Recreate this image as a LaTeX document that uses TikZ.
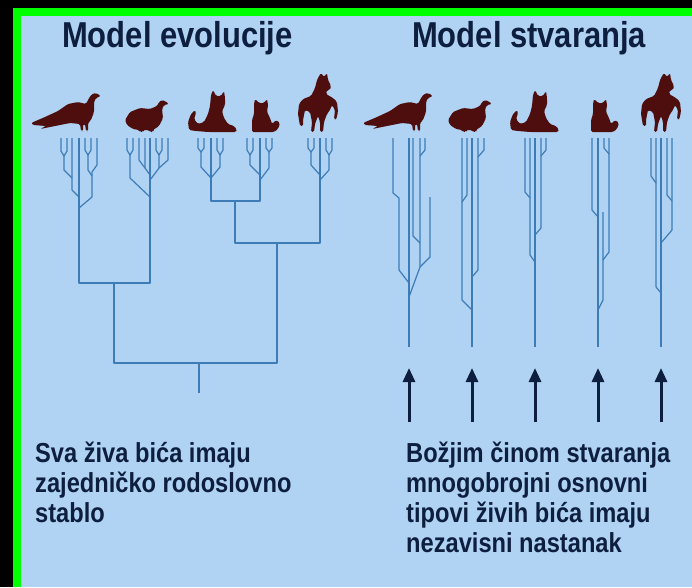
\documentclass[tikz,border=0pt]{standalone}
\usepackage{fontspec}
\setmainfont{Liberation Sans}
\newfontfamily\narrowfont[FakeStretch=0.86]{Liberation Sans}
\usepackage{xcolor}
\usetikzlibrary{arrows.meta}
\definecolor{panelblue}{RGB}{176,211,243}
\definecolor{framegreen}{RGB}{0,255,0}
\definecolor{treeblue}{RGB}{62,124,184}
\definecolor{inkblue}{RGB}{14,30,62}
\definecolor{beastbrown}{RGB}{78,14,14}

\begin{document}
\begin{tikzpicture}[
  x=1pt, y=-1pt,
  title/.style={anchor=base west,inner sep=0pt,text=inkblue,font=\narrowfont\bfseries\fontsize{36}{36}\selectfont},
  caption/.style={anchor=base west,inner sep=0pt,text=inkblue,font=\narrowfont\bfseries\fontsize{27.5}{27.5}\selectfont},
  branch/.style={draw=treeblue,line width=1.2pt,line join=round},
  uparrow/.style={draw=inkblue,line width=3pt,-{Triangle[length=14pt,width=12pt]}},
  beast/.style={fill=beastbrown,rounded corners=1.5pt},
  peacock/.pic={\fill[beast] (1,-9) -- (15,-15) -- (28,-21) -- (38,-28) -- (48,-30) -- (56,-28)
      -- (59,-34) -- (62,-38) -- (66,-39) -- (71,-36) -- (66,-34) -- (64,-30) -- (64,-20)
      -- (61,-12) -- (58,-9) -- (58,-1) -- (56,-1) -- (55,-8) -- (53,-8) -- (53,-1)
      -- (51,-1) -- (50,-8) -- (40,-9) -- (25,-6) -- (10,-3) -- (16,-6) -- (3,-7) -- cycle;},
  duck/.pic={\fill[beast] (0,-12) -- (5,-20) -- (15,-24) -- (25,-23) -- (32,-26) -- (34,-30)
      -- (37,-32) -- (40,-31) -- (44,-28) -- (39,-27) -- (37,-23) -- (38,-14) -- (34,-6)
      -- (28,-2) -- (28,0) -- (25,0) -- (24,-2) -- (18,-2) -- (18,0) -- (15,0) -- (14,-2)
      -- (8,-3) -- (2,-7) -- cycle;},
  bigcat/.pic={\fill[beast] (1,-2) -- (0,-10) -- (3,-18) -- (7,-22) -- (8,-19) -- (6,-13)
      -- (10,-8) -- (16,-10) -- (20,-18) -- (22,-26) -- (23,-37) -- (25,-42) -- (28,-36)
      -- (33,-36) -- (36,-41) -- (37,-34) -- (37,-27) -- (34,-21) -- (36,-14) -- (40,-8)
      -- (46,-6) -- (49,-2) -- (48,0) -- (20,0) -- (8,-1) -- cycle;},
  smallcat/.pic={\fill[beast] (2,0) -- (2,-12) -- (4,-18) -- (4,-28) -- (5,-33) -- (9,-29)
      -- (14,-29) -- (17,-33) -- (18,-27) -- (17,-20) -- (20,-14) -- (22,-8) -- (26,-12)
      -- (30,-9) -- (28,-3) -- (24,0) -- cycle;},
  horse/.pic={\fill[beast] (3,-6) -- (1,-18) -- (2,-28) -- (6,-33) -- (14,-36) -- (18,-44)
      -- (20,-52) -- (22,-56) -- (24,-59) -- (27,-55) -- (30,-59) -- (31,-52) -- (34,-46)
      -- (33,-42) -- (30,-42) -- (29,-38) -- (36,-34) -- (40,-30) -- (41,-20) -- (39,-12)
      -- (37,-13) -- (38,-22) -- (35,-27) -- (33,-22) -- (30,-18) -- (27,-10) -- (26,0)
      -- (23,0) -- (23,-10) -- (21,-16) -- (18,-8) -- (17,0) -- (14,0) -- (15,-10)
      -- (13,-20) -- (8,-22) -- (6,-12) -- (6,-6) -- cycle;}
]
% background, frame and panel
\fill[black] (0,0) rectangle (692,587);
\fill[framegreen] (13,8) rectangle (692,587);
\fill[panelblue] (21,16) rectangle (692,587);

\node[title] (evoTitle) at (62,47) {Model evolucije};
\node[title] (creTitle) at (412,47) {Model stvaranja};

% animals
\foreach \px/\kind in {30/peacock,125/duck,188/bigcat,250/smallcat,297/horse,
                       362/peacock,448/duck,510/bigcat,589/smallcat,640/horse}
  \pic at (\px,132) {\kind};

% common tree: the five small bushes
\draw[branch] (61,138) -- (61,151) -- (64,156) -- (67,151) -- (67,138);
\draw[branch] (64,156) -- (64,170) -- (72,178);
\draw[branch] (72,138) -- (72,190) -- (79,197);
\draw[branch] (85,138) -- (85,150) -- (88,155) -- (91,150) -- (91,138);
\draw[branch] (88,155) -- (88,170) -- (92,176);
\draw[branch] (97,138) -- (97,165) -- (92,172) -- (92,197) -- (79,208);

\draw[branch] (127,138) -- (127,150) -- (130,155) -- (133,150) -- (133,138);
\draw[branch] (130,155) -- (130,178) -- (150,197);
\draw[branch] (139,138) -- (139,160) -- (145,168);
\draw[branch] (145,138) -- (145,168) -- (150,175);
\draw[branch] (156,138) -- (156,150) -- (159,155) -- (162,150) -- (162,138);
\draw[branch] (168,138) -- (168,160) -- (159,168);
\draw[branch] (159,155) -- (159,168) -- (150,180);

\draw[branch] (198,138) -- (198,148) -- (201,152) -- (204,148) -- (204,138);
\draw[branch] (201,152) -- (201,167) -- (211,178);
\draw[branch] (217,138) -- (217,150) -- (220,155) -- (223,150) -- (223,138);
\draw[branch] (220,155) -- (220,167) -- (211,178);

\draw[branch] (247,138) -- (247,150) -- (250,155) -- (253,150) -- (253,138);
\draw[branch] (250,155) -- (250,165) -- (260,175);
\draw[branch] (266,138) -- (266,148) -- (269,152) -- (272,148) -- (272,138);
\draw[branch] (269,152) -- (269,168) -- (260,180);

\draw[branch] (308,138) -- (308,148) -- (311,152) -- (314,148) -- (314,138);
\draw[branch] (311,152) -- (311,165) -- (320,175);
\draw[branch] (326,138) -- (326,150) -- (329,155) -- (332,150) -- (332,138);
\draw[branch] (329,155) -- (329,170) -- (320,180);

% common tree: the joining branches
\draw[branch] (79,138) -- (79,283) -- (150,283) -- (150,138);
\draw[branch] (211,138) -- (211,201) -- (260,201) -- (260,138);
\draw[branch] (235,201) -- (235,243) -- (320,243) -- (320,138);
\draw[branch] (114,283) -- (114,363) -- (277,363) -- (277,243);
\draw[branch] (199,363) -- (199,393);

% separate trees
\draw[branch] (393,138) -- (393,193) -- (399,198) -- (399,270) -- (409,283);
\draw[branch] (409,138) -- (409,347);
\draw[branch] (413,138) -- (413,236) -- (420,243);
\draw[branch] (420,138) -- (420,267) -- (409,297);
\draw[branch] (425,138) -- (425,150) -- (420,156);
\draw[branch] (430,197) -- (430,257) -- (420,267);

\draw[branch] (462,138) -- (462,300) -- (472,310);
\draw[branch] (467,138) -- (467,195) -- (462,202);
\draw[branch] (472,138) -- (472,347);
\draw[branch] (478,138) -- (478,270) -- (472,277);
\draw[branch] (484,138) -- (484,150) -- (478,157);

\draw[branch] (525,138) -- (525,192) -- (530,198);
\draw[branch] (530,138) -- (530,255) -- (535,262);
\draw[branch] (535,138) -- (535,347);
\draw[branch] (541,138) -- (541,228) -- (535,235);
\draw[branch] (546,138) -- (546,150) -- (541,156);

\draw[branch] (592,138) -- (592,210) -- (598,217);
\draw[branch] (598,138) -- (598,347);
\draw[branch] (603,212) -- (603,300) -- (598,310);
\draw[branch] (609,138) -- (609,252) -- (603,260);
\draw[branch] (604,138) -- (604,148) -- (609,154);

\draw[branch] (651,138) -- (651,176) -- (656,183);
\draw[branch] (656,138) -- (656,287) -- (661,293);
\draw[branch] (661,138) -- (661,347);
\draw[branch] (667,138) -- (667,195) -- (672,201);
\draw[branch] (672,138) -- (672,230) -- (661,243);

% arrows of creation
\foreach \ax [count=\i] in {409,472,535,598,661} {
  \coordinate (foot\i) at (\ax,422);
  \coordinate (tip\i) at (\ax,368);
  \draw[uparrow] (foot\i) -- (tip\i);
}

\foreach \txt [count=\i] in {Sva živa bića imaju,zajedničko rodoslovno,stablo}
  \node[caption] (evoText\i) at (35,462+30*\i-30) {\txt};
\foreach \txt [count=\i] in {Božjim činom stvaranja,mnogobrojni osnovni,
                             tipovi živih bića imaju,nezavisni nastanak}
  \node[caption] (creText\i) at (406,462+30*\i-30) {\txt};
\end{tikzpicture}
\end{document}
